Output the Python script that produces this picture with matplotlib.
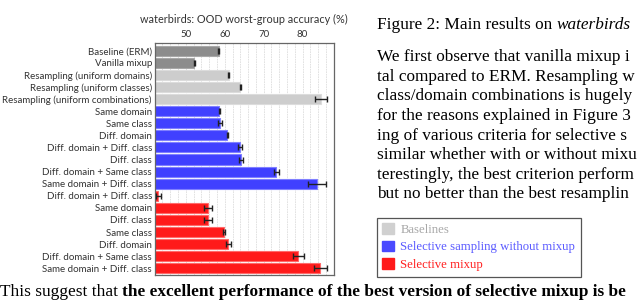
import matplotlib.pyplot as plt
from matplotlib.patches import Patch

# rows, top to bottom
labels = ["Baseline (ERM)", "Vanilla mixup", "Resampling (uniform domains)",
          "Resampling (uniform classes)", "Resampling (uniform combinations)",
          "Same domain", "Same class", "Diff. domain", "Diff. domain + Diff. class",
          "Diff. class", "Diff. domain + Same class", "Same domain + Diff. class",
          "Diff. domain + Diff. class", "Same domain", "Diff. class", "Same class",
          "Diff. domain", "Diff. domain + Same class", "Same domain + Diff. class"]
acc = [58.4, 52.2, 61.0, 64.0, 84.8,
       58.6, 58.8, 60.7, 63.9, 64.1, 73.3, 83.8,
       42.9, 55.7, 55.7, 59.8, 60.9, 78.9, 84.6]
err = [0.2, 0.2, 0.2, 0.2, 1.6,
       0.15, 0.45, 0.15, 0.5, 0.5, 0.7, 2.3,
       0.6, 0.95, 0.95, 0.2, 0.7, 1.4, 1.7]
group = ["base"] * 2 + ["resamp"] * 3 + ["sel"] * 7 + ["mix"] * 7

face = {"base": "#8c8c8c", "resamp": "#cdcdcd", "sel": "#4040ff", "mix": "#ff1a1a"}
edge = {"base": "#a8a8a8", "resamp": "#dcdcdc", "sel": "#8080ff", "mix": "#ff6a6a"}

legend_names = ["Baselines", "Selective sampling without mixup", "Selective mixup"]
legend_cols = ["#d0d0d0", "#4a4aff", "#ff1a1a"]
legend_txt = ["#a8a8a8", "#5a5aff", "#ff2020"]

# the page text, as far as the crop shows it
body = ["We first observe that vanilla mixup i",
        "tal compared to ERM. Resampling w",
        "class/domain combinations is hugely",
        "for the reasons explained in Figure 3",
        "ing of various criteria for selective s",
        "similar whether with or without mixu",
        "terestingly, the best criterion perform",
        "but no better than the best resamplin"]

sans = "Lato"
serif = "Liberation Serif"
fs = 12.4

fig = plt.figure(figsize=(6.4, 3.0), dpi=100)
ax = fig.add_axes([0.2417, 0.0833, 0.2797, 0.7744])

y = list(range(len(labels)))
ax.barh(y, acc, height=0.83,
        color=[face[g] for g in group], edgecolor=[edge[g] for g in group],
        linewidth=0.8, zorder=2)
ax.errorbar(acc, y, xerr=err, fmt='none', ecolor='#222222', elinewidth=1.0,
            capsize=2.2, capthick=1.0, zorder=3)

ax.set_xlim(42, 88)
ax.set_ylim(18.55, -0.66)
ax.set_yticks(y)
ax.set_yticklabels(labels, fontsize=7, family=sans)
ax.set_xticks([50, 60, 70, 80])
ax.set_xticklabels(["50", "60", "70", "80"], fontsize=7, family=sans)
ax.set_xticks(range(44, 88, 2), minor=True)
ax.xaxis.tick_top()
ax.tick_params(axis='x', which='both', length=0, pad=3, colors='#333333')
ax.tick_params(axis='y', length=0, pad=2, colors='#333333')
ax.grid(axis='x', which='both', linestyle=(0, (2, 1)), linewidth=0.6, color='#dddddd', zorder=0)
for s in ax.spines.values():
    s.set_color('#666666')
    s.set_linewidth(0.9)
ax.set_title("waterbirds: OOD worst-group accuracy (%)", fontsize=7.8, family=sans,
             color='#333333', pad=14)

# paper text on the right
fig.canvas.draw()
r = fig.canvas.get_renderer()
cap = fig.text(376.7 / 640, 1 - 25 / 300, "Figure 2: Main results on ", family=serif,
               fontsize=fs, va='center', ha='left')
bb = cap.get_window_extent(r)
fig.text(bb.x1 / 640, 1 - 25 / 300, "waterbirds", family=serif, style='italic',
         fontsize=fs, va='center', ha='left')
for i, line in enumerate(body):
    fig.text(376.7 / 640, 1 - (57.3 + 19.6 * i) / 300, line, family=serif,
             fontsize=fs, va='center', ha='left')

t1 = fig.text(0.0, 1 - 295.5 / 300, "This suggest that ", family=serif, fontsize=fs,
              va='baseline', ha='left')
bb = t1.get_window_extent(r)
fig.text(bb.x1 / 640, 1 - 295.5 / 300,
         "the excellent performance of the best version of selective mixup is be",
         family=serif, fontsize=fs, weight='bold', va='baseline', ha='left')

handles = [Patch(facecolor=c, edgecolor=c) for c in legend_cols]
leg = fig.legend(handles, legend_names, loc='upper left',
                 bbox_to_anchor=(376.7 / 640, 1 - 217.7 / 300),
                 prop={'family': serif, 'size': 9.2}, labelcolor=legend_txt,
                 fancybox=False, edgecolor='#555555', framealpha=1,
                 handlelength=0.9, handleheight=0.9, handletextpad=0.5,
                 borderpad=0.45, labelspacing=0.36, borderaxespad=0)
leg.get_frame().set_linewidth(0.9)

fig.savefig("out.png", dpi=100)
